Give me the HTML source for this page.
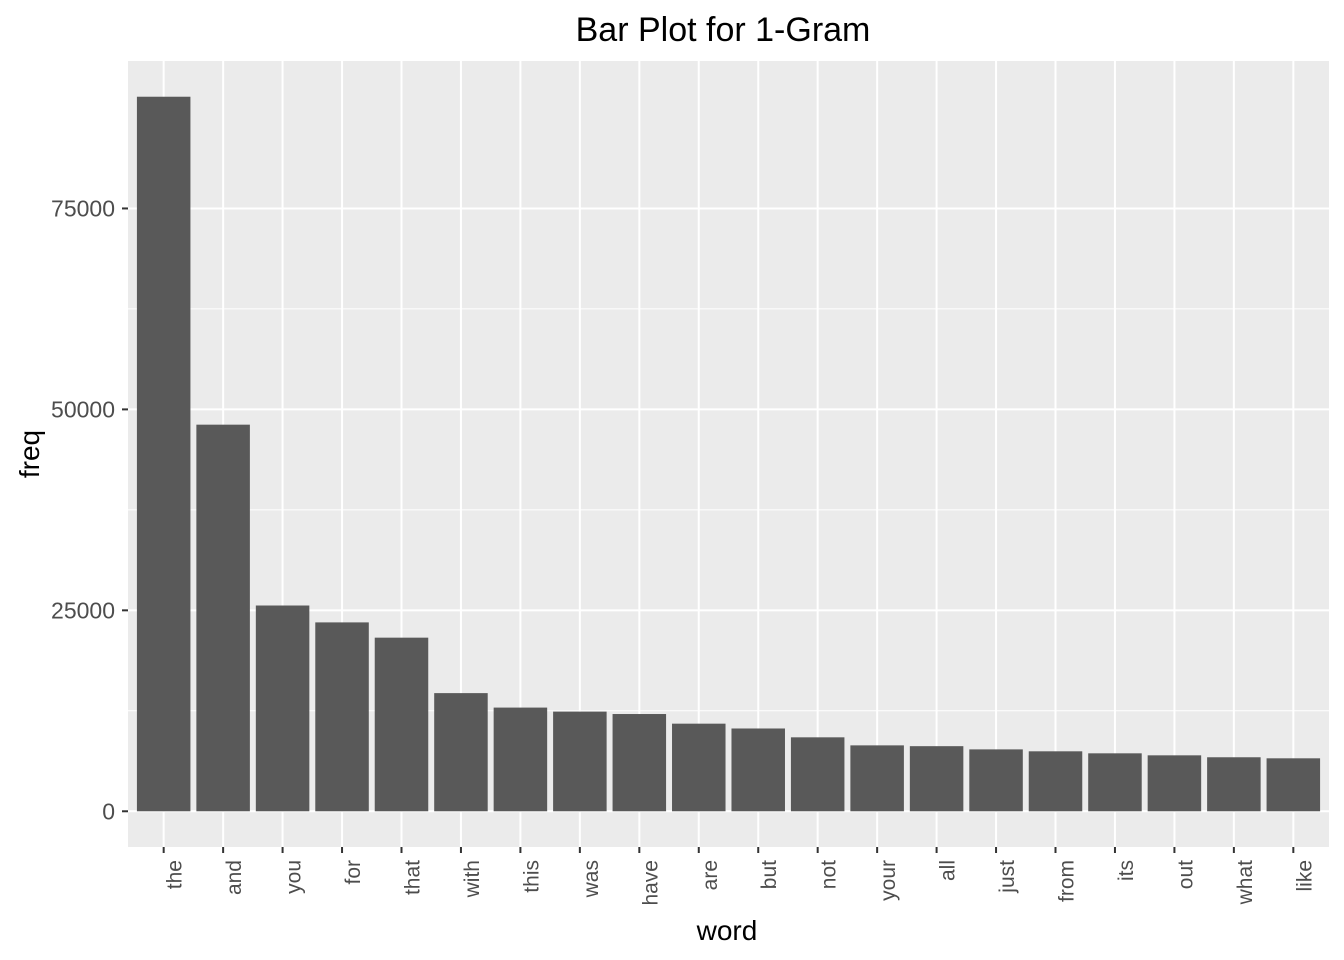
<!DOCTYPE html>
<html><head><meta charset="utf-8"><style>
body{margin:0;background:#fff;}
svg{display:block;font-family:"Liberation Sans",Arial,sans-serif;}
</style></head><body>
<svg id="chart" width="1344" height="960">
<text x="723" y="41" font-size="34" text-anchor="middle" fill="#000">Bar Plot for 1-Gram</text>
<rect x="128" y="61" width="1201" height="786" fill="#ebebeb"/>
<g id="grid"></g><g id="bars"></g><g id="axes"></g>
<text x="727" y="940" font-size="28" text-anchor="middle" fill="#000">word</text>
<text transform="translate(39,454) rotate(-90)" font-size="28" text-anchor="middle" fill="#000">freq</text>
</svg>
<script>
const words=["the","and","you","for","that","with","this","was","have","are","but","not","your","all","just","from","its","out","what","like"];
const freqs=[88900,48100,25600,23500,21600,14700,12900,12400,12100,10900,10300,9200,8200,8100,7700,7460,7210,6960,6720,6590];
const yTicks=[0,25000,50000,75000];
const NS="http://www.w3.org/2000/svg";
const px0=128,px1=1329,pyTop=61,pyBot=847;
const maxV=Math.max(...freqs),pad=maxV*0.05;
const y=v=>pyBot-(v+pad)/(maxV+2*pad)*(pyBot-pyTop);
const step=(px1-px0)/(words.length+0.2);
const x=i=>px0+step*(0.6+i);
const bw=step*0.9;
function mk(t,a,p){const e=document.createElementNS(NS,t);for(const k in a)e.setAttribute(k,a[k]);p.appendChild(e);return e;}
const grid=document.getElementById('grid'),bars=document.getElementById('bars'),axes=document.getElementById('axes');
for(let i=0;i<yTicks.length;i++){
  const v=yTicks[i];
  const l=mk('line',{x1:px0,x2:px1,y1:y(v),y2:y(v),stroke:'#fff','stroke-width':2},grid);
  
  
  if(i<yTicks.length-1){
    const m=mk('line',{x1:px0,x2:px1,y1:y(v+12500),y2:y(v+12500),stroke:'#fff','stroke-width':1},grid);
    
    
  }
  const t=mk('line',{x1:122,x2:128,y1:y(v),y2:y(v),stroke:'#333','stroke-width':2},axes);
  
  
  const tx=mk('text',{x:115,y:y(v)+8,'font-size':23,'text-anchor':'end',fill:'#4d4d4d'},axes);
  tx.textContent=v;
  
  
}
words.forEach((w,i)=>{
  const g=mk('line',{x1:x(i),x2:x(i),y1:pyTop,y2:pyBot,stroke:'#fff','stroke-width':2},grid);
  
  
  const r=mk('rect',{x:x(i)-bw/2,y:y(freqs[i]),width:bw,height:y(0)-y(freqs[i]),fill:'#595959'},bars);
  
  
  const t=mk('line',{x1:x(i),x2:x(i),y1:pyBot,y2:pyBot+6,stroke:'#333','stroke-width':2},axes);
  
  
  const tx=mk('text',{transform:`translate(${x(i)+18},860) rotate(-90)`,'font-size':21,'text-anchor':'end',fill:'#4d4d4d'},axes);
  tx.textContent=w;
  
  
});
</script>
</body></html>
